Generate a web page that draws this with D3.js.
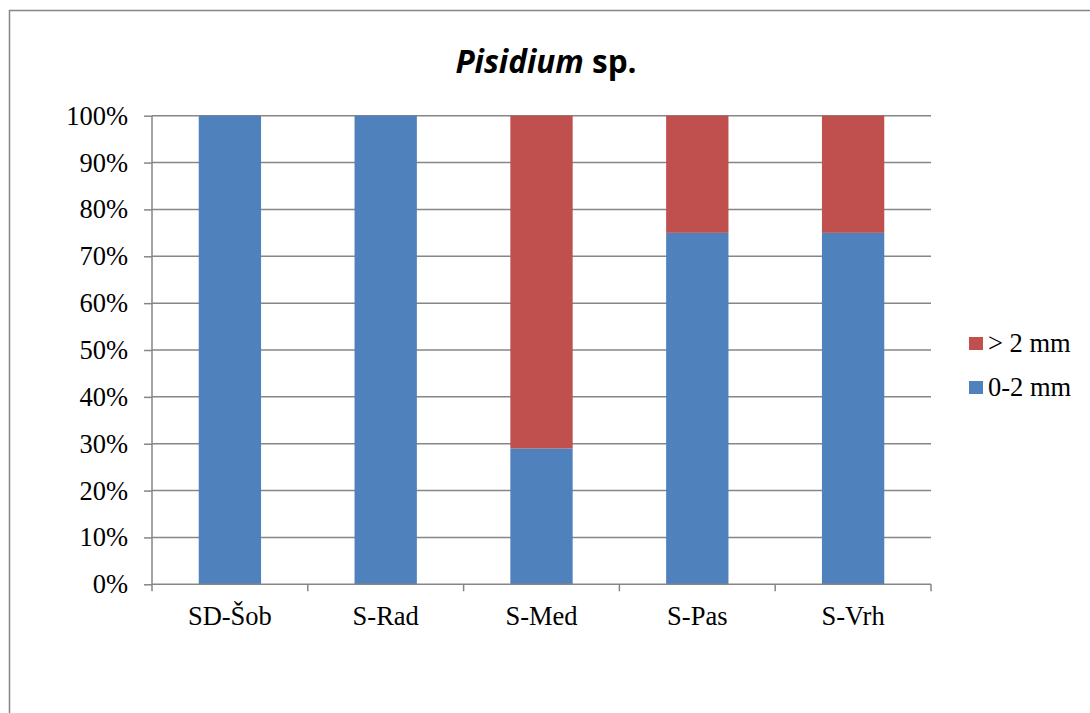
<!DOCTYPE html>
<html>
<head>
<meta charset="utf-8">
<script src="https://cdn.jsdelivr.net/npm/d3@7"></script>
<style>
	body { margin: 0; background: #fff; }
	svg { display: block; }
</style>
</head>
<body>
<svg id="chart" width="1090" height="713"></svg>
<script>
const categories = ["SD-Šob", "S-Rad", "S-Med", "S-Pas", "S-Vrh"];
const small = [100, 100, 29, 75, 75]; // 0-2 mm
const large = [0, 0, 71, 25, 25]; // > 2 mm
const yTicks = [0, 10, 20, 30, 40, 50, 60, 70, 80, 90, 100];
const seriesNames = ["> 2 mm", "0-2 mm"];

const blue = "#4f81bd";
const red = "#c0504d";
const gray = "#868686";
const serif = "'Liberation Serif', 'Times New Roman', serif";
const labelSize = "26.5px";

const svg = d3.select("#chart");

// chart area border
svg.append("rect")
	.attr("x", 9.5)
	.attr("y", 10.5)
	.attr("width", 1100)
	.attr("height", 720)
	.attr("fill", "none")
	.attr("stroke", gray)
	.attr("stroke-width", 1.5);

const plotLeft = 152, plotRight = 931, plotTop = 115.7, plotBottom = 584.3;

const x = d3.scaleBand()
	.domain(categories)
	.range([plotLeft, plotRight])
	.paddingInner(0.6)
	.paddingOuter(0.3);

const y = d3.scaleLinear()
	.domain([0, 100])
	.range([plotBottom, plotTop]);

// gridlines
svg.append("g")
	.selectAll("line")
	.data(yTicks.filter((d) => d > 0))
	.join("line")
	.attr("x1", plotLeft)
	.attr("x2", plotRight)
	.attr("y1", (d) => y(d))
	.attr("y2", (d) => y(d))
	.attr("stroke", gray)
	.attr("stroke-width", 1.5);

// stacked bars
const rows = categories.map((c, i) => ({ cat: c, small: small[i], large: large[i] }));
const stacked = d3.stack().keys(["small", "large"])(rows);
const colors = { small: blue, large: red };

svg.append("g")
	.selectAll("g")
	.data(stacked)
	.join("g")
	.attr("fill", (s) => colors[s.key])
	.selectAll("rect")
	.data((s) => s)
	.join("rect")
	.attr("x", (d) => x(d.data.cat))
	.attr("width", x.bandwidth())
	.attr("y", (d) => y(d[1]))
	.attr("height", (d) => y(d[0]) - y(d[1]));

// y axis
const yAxis = svg.append("g")
	.attr("transform", `translate(${plotLeft},0)`)
	.call(d3.axisLeft(y).tickValues(yTicks).tickFormat((d) => d + "%").tickSize(8).tickPadding(16));
yAxis.select(".domain").attr("stroke", gray).attr("stroke-width", 1.5).attr("d", `M0,${plotTop}V${plotBottom}`);
yAxis.selectAll(".tick line").attr("stroke", gray).attr("stroke-width", 1.5);
yAxis.selectAll(".tick text")
	.attr("font-family", serif)
	.attr("font-size", labelSize)
	.attr("fill", "#000");

// x axis with ticks at category boundaries
const xAxis = svg.append("g").attr("transform", `translate(0,${plotBottom})`);
xAxis.append("line")
	.attr("x1", plotLeft)
	.attr("x2", plotRight)
	.attr("stroke", gray)
	.attr("stroke-width", 1.5);
const bounds = d3.range(categories.length + 1).map((i) => plotLeft + i * x.step());
xAxis.selectAll(".bound")
	.data(bounds)
	.join("line")
	.attr("class", "bound")
	.attr("x1", (d) => d)
	.attr("x2", (d) => d)
	.attr("y1", 0)
	.attr("y2", 7)
	.attr("stroke", gray)
	.attr("stroke-width", 1.5);
xAxis.selectAll("text")
	.data(categories)
	.join("text")
	.attr("x", (d) => x(d) + x.bandwidth() / 2)
	.attr("y", 41)
	.attr("text-anchor", "middle")
	.attr("font-family", serif)
	.attr("font-size", labelSize)
	.attr("fill", "#000")
	.text((d) => d);

// title
const title = svg.append("text")
	.attr("x", 546)
	.attr("y", 73)
	.attr("text-anchor", "middle")
	.attr("font-family", "'Open Sans', 'Noto Sans', sans-serif")
	.attr("font-weight", "bold")
	.attr("font-size", "31.5px")
	.attr("fill", "#000");
title.append("tspan").attr("font-style", "italic").text("Pisidium");
title.append("tspan").text(" sp.");

// legend
const legend = svg.append("g")
	.selectAll("g")
	.data(seriesNames)
	.join("g")
	.attr("transform", (d, i) => `translate(969,${337 + i * 44})`);
legend.append("rect")
	.attr("width", 14)
	.attr("height", 13)
	.attr("fill", (d, i) => (i === 0 ? red : blue));
legend.append("text")
	.attr("x", 19)
	.attr("y", 15)
	.attr("font-family", serif)
	.attr("font-size", labelSize)
	.attr("fill", "#000")
	.text((d) => d);
</script>
</body>
</html>
